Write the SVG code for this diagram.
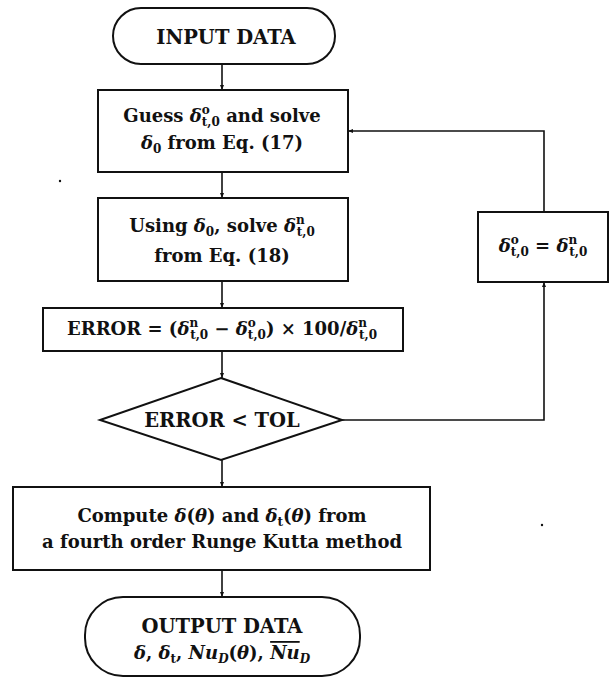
<svg xmlns="http://www.w3.org/2000/svg" width="609" height="678" viewBox="0 0 609 678">
<style>
.shape{fill:#fff;stroke:#111;stroke-width:2}
.line{fill:none;stroke:#111;stroke-width:1.6}
text{font-family:"DejaVu Serif","Liberation Serif",serif;font-weight:bold;font-size:18px;fill:#111;text-anchor:middle}
.c{font-size:19.5px}
.m{font-style:italic}
.s{font-size:12px}
</style>
<defs>
<marker id="ah" viewBox="0 0 10 10" refX="10" refY="5" markerWidth="5" markerHeight="5" orient="auto" markerUnits="userSpaceOnUse">
<path d="M0,1 L10,5 L0,9 z" fill="#111"/>
</marker>
</defs>
<rect width="609" height="678" fill="#fff"/>
<g id="connectors">
<line class="line" x1="222" y1="64" x2="222" y2="90" marker-end="url(#ah)"/>
<line class="line" x1="222" y1="172" x2="222" y2="198" marker-end="url(#ah)"/>
<line class="line" x1="222" y1="281" x2="222" y2="308" marker-end="url(#ah)"/>
<line class="line" x1="222" y1="351" x2="222" y2="378" marker-end="url(#ah)"/>
<line class="line" x1="222" y1="460" x2="222" y2="487" marker-end="url(#ah)"/>
<line class="line" x1="222" y1="570" x2="222" y2="597" marker-end="url(#ah)"/>
<polyline class="line" points="342,420 544,420 544,282" marker-end="url(#ah)"/>
<polyline class="line" points="544,212 544,131 348,131" marker-end="url(#ah)"/>
</g>
<g id="input">
<rect class="shape" x="113" y="8" width="222" height="56" rx="28" ry="28"/>
<text class="c" x="226" y="44">INPUT DATA</text>
</g>
<g id="guess">
<rect class="shape" x="98" y="90" width="250" height="82"/>
<text x="222" y="122">Guess <tspan class="m">δ</tspan><tspan class="s" dy="-8">o</tspan><tspan class="s" dx="-8" dy="12">t,0</tspan><tspan dy="-4"> and solve</tspan></text>
<text x="222" y="149"><tspan class="m">δ</tspan><tspan class="s" dy="4">0</tspan><tspan dy="-4"> from Eq. (17)</tspan></text>
</g>
<g id="using">
<rect class="shape" x="98" y="198" width="250" height="83"/>
<text x="222" y="232">Using <tspan class="m">δ</tspan><tspan class="s" dy="4">0</tspan><tspan dy="-4">, solve </tspan><tspan class="m">δ</tspan><tspan class="s" dy="-8">n</tspan><tspan class="s" dx="-8" dy="12">t,0</tspan></text>
<text x="222" y="262">from Eq. (18)</text>
</g>
<g id="error">
<rect class="shape" x="43" y="308" width="360" height="43"/>
<text x="222" y="335">ERROR = (<tspan class="m">δ</tspan><tspan class="s" dy="-8">n</tspan><tspan class="s" dx="-8" dy="12">t,0</tspan><tspan dy="-4"> − </tspan><tspan class="m">δ</tspan><tspan class="s" dy="-8">o</tspan><tspan class="s" dx="-8" dy="12">t,0</tspan><tspan dy="-4">) × 100/</tspan><tspan class="m">δ</tspan><tspan class="s" dy="-8">n</tspan><tspan class="s" dx="-8" dy="12">t,0</tspan></text>
</g>
<g id="decision">
<polygon class="shape" points="221,378 342,420 221,460 100,420"/>
<text class="c" x="222" y="427">ERROR &lt; TOL</text>
</g>
<g id="update">
<rect class="shape" x="478" y="212" width="130" height="70"/>
<text x="543" y="252"><tspan class="m">δ</tspan><tspan class="s" dy="-8">o</tspan><tspan class="s" dx="-8" dy="12">t,0</tspan><tspan dy="-4"> = </tspan><tspan class="m">δ</tspan><tspan class="s" dy="-8">n</tspan><tspan class="s" dx="-8" dy="12">t,0</tspan></text>
</g>
<g id="compute">
<rect class="shape" x="13" y="487" width="417" height="83"/>
<text x="222" y="522">Compute <tspan class="m">δ</tspan>(<tspan class="m">θ</tspan>) and <tspan class="m">δ</tspan><tspan class="s" dy="4">t</tspan><tspan dy="-4">(</tspan><tspan class="m">θ</tspan>) from</text>
<text x="222" y="548">a fourth order Runge Kutta method</text>
</g>
<g id="output">
<rect class="shape" x="85" y="597" width="275" height="79" rx="38" ry="38"/>
<text class="c" x="222" y="633">OUTPUT DATA</text>
<text x="222" y="659"><tspan class="m">δ</tspan>, <tspan class="m">δ</tspan><tspan class="s" dy="4">t</tspan><tspan dy="-4">, </tspan><tspan class="m">Nu</tspan><tspan class="s m" dy="4">D</tspan><tspan dy="-4">(</tspan><tspan class="m">θ</tspan>), <tspan class="m" text-decoration="overline">Nu</tspan><tspan class="s m" dy="4">D</tspan></text>
</g>
<circle cx="60" cy="181" r="1.2" fill="#111"/>
<circle cx="542" cy="525" r="1.2" fill="#111"/>
</svg>
